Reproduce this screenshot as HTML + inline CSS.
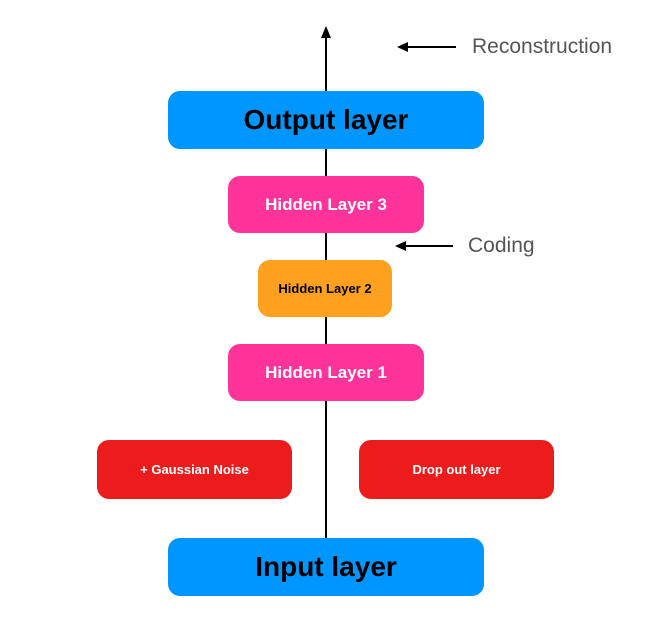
<!DOCTYPE html>
<html><head><style>
body{margin:0;width:661px;height:634px;background:#fff;position:relative;font-family:"Liberation Sans",sans-serif;overflow:hidden}
.b{position:absolute;border-radius:12px;display:flex;align-items:center;justify-content:center;font-weight:bold}
.t{position:absolute;color:#555;font-size:21px}
</style></head><body>
<svg width="661" height="634" style="position:absolute;left:0;top:0">
<line x1="326" y1="36" x2="326" y2="540" stroke="#000" stroke-width="2"/>
<polygon points="326,26 321,38 331,38" fill="#000"/>
<line x1="406" y1="47" x2="456" y2="47" stroke="#000" stroke-width="2"/>
<polygon points="397,47 408,42 408,52" fill="#000"/>
<line x1="404" y1="246" x2="453" y2="246" stroke="#000" stroke-width="2"/>
<polygon points="395,246 406,241 406,251" fill="#000"/>
</svg>
<div class="b" style="left:168px;top:91px;width:316px;height:58px;background:#0096ff;font-size:28px;color:#000">Output layer</div>
<div class="b" style="left:228px;top:176px;width:196px;height:57px;background:#ff3399;font-size:17px;color:#fff">Hidden Layer 3</div>
<div class="b" style="left:258px;top:260px;width:134px;height:57px;background:#ffa01e;font-size:13px;color:#000">Hidden Layer 2</div>
<div class="b" style="left:228px;top:344px;width:196px;height:57px;background:#ff3399;font-size:17px;color:#fff">Hidden Layer 1</div>
<div class="b" style="left:97px;top:440px;width:195px;height:59px;background:#ed1c1c;font-size:13px;color:#fff">+ Gaussian Noise</div>
<div class="b" style="left:359px;top:440px;width:195px;height:59px;background:#ed1c1c;font-size:13px;color:#fff">Drop out layer</div>
<div class="b" style="left:168px;top:538px;width:316px;height:58px;background:#0096ff;font-size:28px;color:#000">Input layer</div>
<div class="t" style="left:472px;top:35px">Reconstruction</div>
<div class="t" style="left:468px;top:234px">Coding</div>
</body></html>
